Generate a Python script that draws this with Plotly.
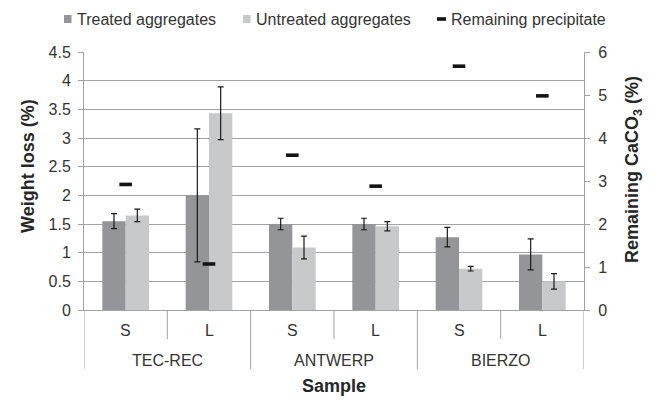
import plotly.graph_objects as go

# ---- data ----
groups = ["TEC-REC", "ANTWERP", "BIERZO"]
sizes = ["S", "L"]
treated = [1.55, 2.00, 1.50, 1.50, 1.27, 0.97]
treated_err = [0.13, 1.16, 0.10, 0.10, 0.17, 0.27]
untreated = [1.65, 3.43, 1.09, 1.46, 0.72, 0.50]
untreated_err = [0.11, 0.46, 0.20, 0.08, 0.04, 0.135]
precipitate = [2.92, 1.07, 3.60, 2.88, 5.67, 4.98]
series_names = ["Treated aggregates", "Untreated aggregates", "Remaining precipitate"]
y_title = "Weight loss (%)"
y2_title = "Remaining CaCO<sub>3</sub> (%)"
x_title = "Sample"

keys = [f"{g}|{s}" for g in groups for s in sizes]

# ---- geometry ----
W, H = 657, 401
ML, MR, MT, MB = 84, 73, 52, 91
PW, PH = W - ML - MR, H - MT - MB


def px(x):
    return (x - ML) / PW


def py(y):
    return (H - MB - y) / PH


DARK = "#939598"
LIGHT = "#c8c9cb"
TXT = "#333333"
GRID = "#a3a3a3"
FONT = "Liberation Sans, Arial, sans-serif"

fig = go.Figure()
fig.add_trace(go.Bar(
    x=keys, y=treated, name=series_names[0], marker=dict(color=DARK, line_width=0),
    error_y=dict(type="data", array=treated_err, color="#1a1a1a", thickness=1.2, width=3),
))
fig.add_trace(go.Bar(
    x=keys, y=untreated, name=series_names[1], marker=dict(color=LIGHT, line_width=0),
    error_y=dict(type="data", array=untreated_err, color="#1a1a1a", thickness=1.2, width=3),
))
fig.add_trace(go.Scatter(
    x=keys, y=precipitate, name=series_names[2], yaxis="y2", mode="markers",
    marker=dict(symbol="line-ew", size=9, line=dict(width=3.6, color="#141414")),
))

shapes = []
annotations = []
# S/L labels and short separators
for i, k in enumerate(keys):
    annotations.append(dict(x=i, y=py(330), xref="x", yref="paper", text=k.split("|")[1],
                            showarrow=False, xanchor="center", yanchor="middle",
                            font=dict(size=16, color=TXT)))
for gi, g in enumerate(groups):
    c = gi * len(sizes) + (len(sizes) - 1) / 2
    annotations.append(dict(x=c, y=py(360), xref="x", yref="paper", text=g,
                            showarrow=False, xanchor="center", yanchor="middle",
                            font=dict(size=16, color=TXT)))
    shapes.append(dict(type="line", xref="x", yref="paper", x0=c, x1=c, y0=0, y1=py(339),
                       line=dict(color=GRID, width=1)))
for gi in range(len(groups) + 1):
    b = gi * len(sizes) - 0.5
    shapes.append(dict(type="line", xref="x", yref="paper", x0=b, x1=b, y0=0, y1=py(369),
                       line=dict(color=GRID, width=1)))

# axis titles
annotations.append(dict(x=0.5, y=py(386), xref="paper", yref="paper", text=f"<b>{x_title}</b>",
                        showarrow=False, font=dict(size=18, color="#262626"),
                        xanchor="center", yanchor="middle"))
annotations.append(dict(x=px(28), y=py(166), xref="paper", yref="paper", text=f"<b>{y_title}</b>",
                        showarrow=False, textangle=-90, font=dict(size=18, color="#262626"),
                        xanchor="center", yanchor="middle"))
annotations.append(dict(x=px(633), y=py(170), xref="paper", yref="paper", text=f"<b>{y2_title}</b>",
                        showarrow=False, textangle=-90, font=dict(size=18, color="#262626"),
                        xanchor="center", yanchor="middle"))

# legend (manual)
leg_y = 19
shapes.append(dict(type="rect", xref="paper", yref="paper", x0=px(64), x1=px(71.5),
                   y0=py(leg_y + 4), y1=py(leg_y - 4), fillcolor=DARK, line_width=0))
shapes.append(dict(type="rect", xref="paper", yref="paper", x0=px(243), x1=px(250.5),
                   y0=py(leg_y + 4), y1=py(leg_y - 4), fillcolor=LIGHT, line_width=0))
shapes.append(dict(type="line", xref="paper", yref="paper", x0=px(437), x1=px(446),
                   y0=py(leg_y), y1=py(leg_y), line=dict(color="#141414", width=3.6)))
for xpos, name in zip([75, 254, 449], series_names):
    annotations.append(dict(x=px(xpos), y=py(leg_y), xref="paper", yref="paper", text=name,
                            showarrow=False, xanchor="left", yanchor="middle",
                            font=dict(size=16, color=TXT)))

fig.update_layout(
    width=W, height=H,
    margin=dict(l=ML, r=MR, t=MT, b=MB, pad=0),
    paper_bgcolor="white", plot_bgcolor="white",
    font=dict(family=FONT, size=16, color=TXT),
    barmode="group", bargap=0.44, bargroupgap=0,
    showlegend=False,
    xaxis=dict(type="category", categoryorder="array", categoryarray=keys,
               range=[-0.5, len(keys) - 0.5], showticklabels=False, ticks="",
               showline=True, linecolor=GRID, linewidth=1, showgrid=False, zeroline=False),
    yaxis=dict(range=[0, 4.5], dtick=0.5, showgrid=True, gridcolor=GRID, gridwidth=1,
               showline=True, linecolor=GRID, linewidth=1, ticks="outside", ticklen=5,
               tickcolor=GRID, zeroline=False, tickfont=dict(size=16, color=TXT),
               ticklabelstandoff=4),
    yaxis2=dict(range=[0, 6], dtick=1, overlaying="y", side="right", showgrid=False,
                showline=True, linecolor=GRID, linewidth=1, ticks="outside", ticklen=5,
                tickcolor=GRID, zeroline=False, tickfont=dict(size=16, color=TXT),
                ticklabelstandoff=5),
    shapes=shapes, annotations=annotations,
)

fig.write_html("out.html")
